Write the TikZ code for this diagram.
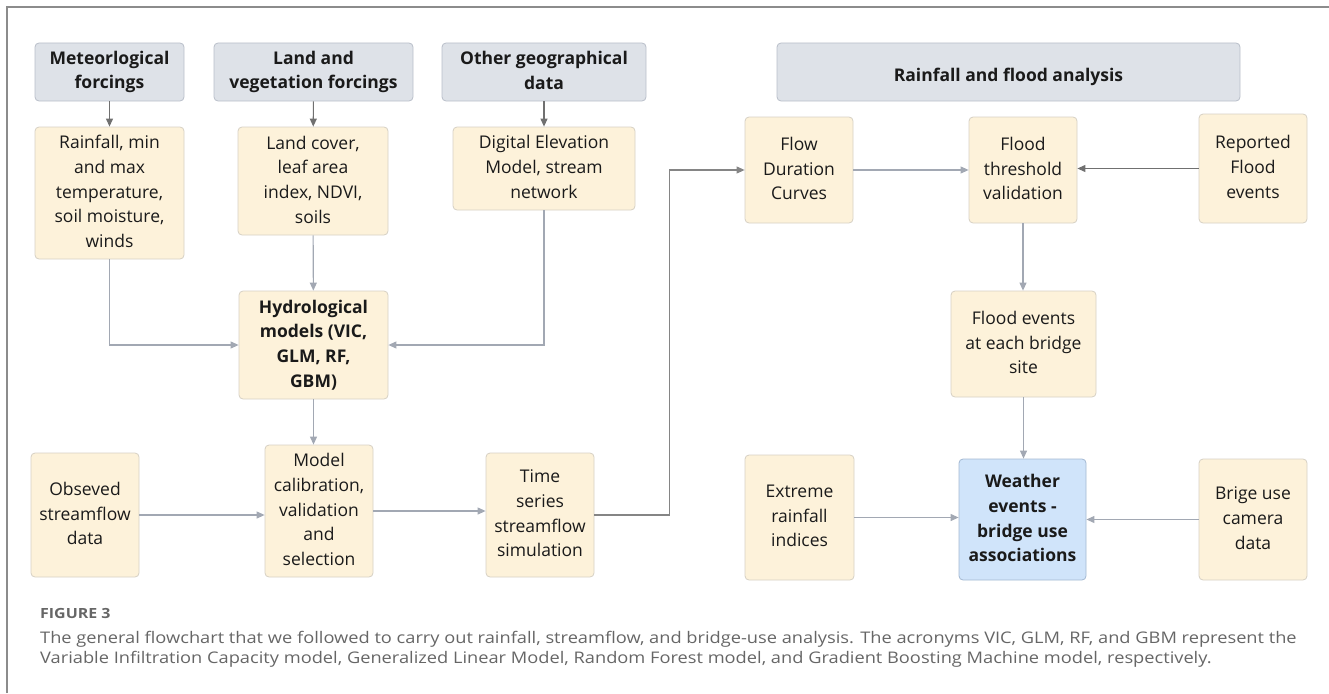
\documentclass[tikz,border=0pt]{standalone}
\usepackage{fontspec}
\setmainfont{Open Sans}
\newfontfamily\capfont[FakeStretch=1.14]{Open Sans}
\usetikzlibrary{arrows.meta}
\definecolor{hdrfill}{HTML}{DEE2E8}
\definecolor{hdrdraw}{HTML}{B9BFC9}
\definecolor{yfill}{HTML}{FDF2DA}
\definecolor{ydraw}{HTML}{D6D0C4}
\definecolor{bfill}{HTML}{D0E4FA}
\definecolor{bdraw}{HTML}{A3B8D2}
\definecolor{linecol}{HTML}{A2A8B3}
\definecolor{darkline}{HTML}{707070}
\definecolor{framecol}{HTML}{8C8C8C}
\definecolor{captxt}{HTML}{666666}
\definecolor{txt}{HTML}{1A1A1A}
\newcommand\tstrut{\rule{0pt}{23pt}}
\newcommand\bstrut{\rule[-3pt]{0pt}{3pt}}
\tikzset{
  box/.style={draw, rounded corners=4pt, align=center, inner sep=0pt, line width=0.8pt,
    text=txt, font=\fontsize{17.5}{24.7}\selectfont,
    execute at begin node={\tstrut}, execute at end node={\bstrut}},
  hdr/.style={box, fill=hdrfill, draw=hdrdraw, font=\fontsize{17.5}{24.7}\selectfont\bfseries},
  ybox/.style={box, fill=yfill, draw=ydraw},
  bbox/.style={box, fill=bfill, draw=bdraw, font=\fontsize{17.5}{24.7}\selectfont\bfseries},
  arr/.style={-{Triangle[length=8pt,width=7pt]}, draw=linecol, line width=1.1pt},
  darr/.style={arr, draw=darkline},
  frameline/.style={draw=framecol, line width=1.6pt}
}
\begin{document}
\begin{tikzpicture}[x=1pt,y=-1pt]
\useasboundingbox (0,0) rectangle (1329,693);
\coordinate (f0) at (7,693);
\coordinate (f1) at (7,7);
\coordinate (f2) at (1329,7);
\draw[frameline] (f0) -- (f1) -- (f2);

% headers
\node[hdr, minimum width=149pt, minimum height=58pt] (met) at (109.5,72) {Meteorlogical\\forcings};
\node[hdr, minimum width=199pt, minimum height=58pt] (land) at (313.5,72) {Land and\\vegetation forcings};
\node[hdr, minimum width=204pt, minimum height=58pt] (other) at (544,72) {Other geographical\\data};
\node[hdr, minimum width=463pt, minimum height=58pt] (rfa) at (1008.5,72) {Rainfall and flood analysis};

% inputs
\node[ybox, minimum width=149pt, minimum height=132pt] (rain) at (109.5,193) {Rainfall, min\\and max\\temperature,\\soil moisture,\\winds};
\node[ybox, minimum width=150pt, minimum height=108pt] (lc) at (313,181) {Land cover,\\leaf area\\index, NDVI,\\soils};
\node[ybox, minimum width=182pt, minimum height=83pt] (dem) at (544,168.5) {Digital Elevation\\Model, stream\\network};

\node[ybox, minimum width=149pt, minimum height=108pt, font=\fontsize{17.5}{24.7}\selectfont\bfseries] (hyd) at (313.5,345) {Hydrological\\models (VIC,\\GLM, RF,\\GBM)};

\node[ybox, minimum width=108pt, minimum height=124pt] (obs) at (85,515) {Obseved\\streamflow\\data};
\node[ybox, minimum width=108pt, minimum height=132pt] (mc) at (319,511) {Model\\calibration,\\validation\\and\\selection};
\node[ybox, minimum width=108pt, minimum height=124pt] (ts) at (540,515) {Time\\series\\streamflow\\simulation};

% right part
\node[ybox, minimum width=108pt, minimum height=106pt] (fdc) at (799,170) {Flow\\Duration\\Curves};
\node[ybox, minimum width=108pt, minimum height=106pt] (ftv) at (1023,170) {Flood\\threshold\\validation};
\node[ybox, minimum width=108pt, minimum height=109pt] (rep) at (1253,168.5) {Reported\\Flood\\events};
\node[ybox, minimum width=145pt, minimum height=106pt] (fe) at (1023.5,344) {Flood events\\at each bridge\\site};
\node[ybox, minimum width=109pt, minimum height=125pt] (eri) at (799.5,517.5) {Extreme\\rainfall\\indices};
\node[bbox, minimum width=127pt, minimum height=121pt] (we) at (1022.5,519.5) {Weather\\events -\\bridge use\\associations};
\node[ybox, minimum width=108pt, minimum height=121pt] (bc) at (1253,519.5) {Brige use\\camera\\data};

% connectors
\draw[darr] (met) -- (rain);
\draw[darr] (land) -- (lc);
\draw[darr] (other) -- (dem);
\draw[arr] (rain.south) |- (hyd.west);
\draw[arr] (lc) -- (hyd);
\draw[arr] (dem.south) |- (hyd.east);
\draw[arr] (hyd.south) -- (hyd.south |- mc.north);
\draw[arr] (obs.east) -- (mc.west |- obs.east);
\draw[arr] (mc.east) -- (ts.west |- mc.east);
\draw[arr, draw=darkline!85] (ts.east) -- ++(75,0) |- (fdc.west);
\draw[arr] (fdc) -- (ftv);
\draw[darr] (rep.west) -- (ftv.east |- rep.west);
\draw[arr] (ftv) -- (ftv.south |- fe.north);
\draw[arr] (fe.south) -- (fe.south |- we.north);
\draw[arr] (eri.east) -- (we.west |- eri.east);
\draw[arr] (bc.west) -- (we.east |- bc.west);

% caption
\node[anchor=base west, inner sep=0pt, text=captxt, font=\capfont\fontsize{14}{20}\selectfont\bfseries] (figlab) at (40,618) {FIGURE 3};
\node[anchor=base west, inner sep=0pt, text=captxt, align=left, font=\capfont\fontsize{16}{20}\selectfont] (cap) at (40,663) {The general flowchart that we followed to carry out rainfall, streamflow, and bridge-use analysis. The acronyms VIC, GLM, RF, and GBM represent the\\Variable Infiltration Capacity model, Generalized Linear Model, Random Forest model, and Gradient Boosting Machine model, respectively.};
\end{tikzpicture}
\end{document}
